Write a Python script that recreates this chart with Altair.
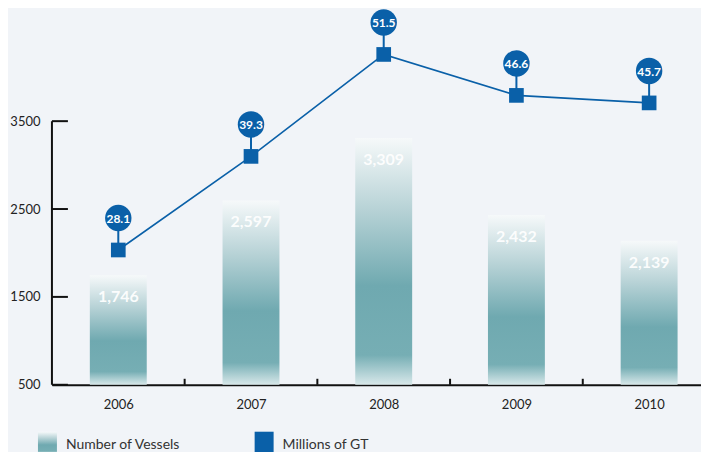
import altair as alt
import pandas as pd

years = [2006, 2007, 2008, 2009, 2010]
vessels = [1746, 2597, 3309, 2432, 2139]
gt = [28.1, 39.3, 51.5, 46.6, 45.7]
y_ticks = [500, 1500, 2500, 3500]
x_bounds = [2006.5, 2007.5, 2008.5, 2009.5]
legend_labels = ["Number of Vessels", "Millions of GT"]

df = pd.DataFrame({"year": years, "vessels": vessels, "gt": gt})

BLUE = "#0a60a8"
FONT = "Lato"
W, H = 650, 375
XDOM = [2005.5, 2005.5 + W / 132.9]
YDOM = [500, 500 + H / 0.088]
GDOM = [11.97, 56.78]


def xsc():
    return alt.Scale(domain=XDOM, nice=False, zero=False, padding=0)


bar_grad = alt.Gradient(
    gradient="linear", x1=0, y1=0, x2=0, y2=1,
    stops=[
        alt.GradientStop(offset=0, color="#f6f9fa"),
        alt.GradientStop(offset=0.3, color="#b5d1d5"),
        alt.GradientStop(offset=0.6, color="#6fa9b0"),
        alt.GradientStop(offset=0.88, color="#76aeb4"),
        alt.GradientStop(offset=1, color="#d8e8ea"),
    ],
)

ybar = alt.Scale(domain=YDOM, nice=False, zero=False, padding=0)
yline = alt.Scale(domain=GDOM, nice=False, zero=False, padding=0)

base = alt.Chart(df)

bars = base.mark_bar(width=57, fill=bar_grad).encode(
    x=alt.X("year:Q", scale=xsc(),
            axis=alt.Axis(values=years, format="d", title=None, grid=False,
                          ticks=False, domainColor="#111", domainWidth=2,
                          labelFont=FONT, labelFontSize=13, labelColor="#222",
                          labelPadding=14)),
    y=alt.Y("vessels:Q", scale=ybar,
            axis=alt.Axis(values=y_ticks, format="d", title=None, grid=False,
                          ticks=False, domain=False, labelFont=FONT,
                          labelFontSize=13, labelColor="#222", labelPadding=12)),
    y2=alt.datum(500),
)

bar_text = base.mark_text(font=FONT, fontSize=16, fontWeight="bold",
                          color="white", opacity=0.92, baseline="middle",
                          dy=22).encode(
    x=alt.X("year:Q", scale=xsc()),
    y=alt.Y("vessels:Q", scale=ybar, axis=None),
    text=alt.Text("vessels:Q", format=",d"),
)

xs = alt.X("year:Q", scale=xsc())

line = base.mark_line(color=BLUE, strokeWidth=1.6).encode(
    x=xs, y=alt.Y("gt:Q", scale=yline, axis=None))
stems = base.mark_rule(color=BLUE, strokeWidth=2, y2Offset=-30).encode(
    x=xs, y=alt.Y("gt:Q", scale=yline, axis=None), y2=alt.Y2("gt:Q"))
squares = base.mark_point(shape="square", filled=True, size=216, opacity=1,
                          color=BLUE).encode(
    x=xs, y=alt.Y("gt:Q", scale=yline, axis=None))
circles = base.mark_point(shape="circle", filled=True, size=700, opacity=1,
                          color=BLUE, yOffset=-32).encode(
    x=xs, y=alt.Y("gt:Q", scale=yline, axis=None))
circ_text = base.mark_text(font=FONT, fontSize=12, fontWeight="bold",
                           color="white", baseline="middle", yOffset=-31).encode(
    x=xs, y=alt.Y("gt:Q", scale=yline, axis=None),
    text=alt.Text("gt:Q", format=".1f"))

ytick_df = pd.DataFrame({"v": y_ticks})
ytick_rules = alt.Chart(ytick_df).mark_rule(color="#111", strokeWidth=2).encode(
    x=alt.value(0), x2=alt.value(16),
    y=alt.Y("v:Q", scale=ybar, axis=None))
yaxis_line = alt.Chart(pd.DataFrame({"a": [min(y_ticks)], "b": [max(y_ticks)]})).mark_rule(
    color="#111", strokeWidth=2).encode(
    x=alt.value(0), y=alt.Y("a:Q", scale=ybar, axis=None), y2="b:Q")

xb_df = pd.DataFrame({"b": x_bounds})
xtick_rules = alt.Chart(xb_df).mark_rule(color="#111", strokeWidth=2).encode(
    x=alt.X("b:Q", scale=xsc()),
    y=alt.value(H - 6), y2=alt.value(H))

one = alt.Data(values=[{"k": 1}])
leg_sw1 = alt.Chart(one).mark_rect(fill=bar_grad).encode(
    x=alt.value(-14), x2=alt.value(5), y=alt.value(422), y2=alt.value(444))
leg_tx1 = alt.Chart(one).mark_text(font=FONT, fontSize=14, color="#333",
                                   align="left", baseline="alphabetic",
                                   text=legend_labels[0]).encode(
    x=alt.value(14), y=alt.value(439))
leg_sw2 = alt.Chart(one).mark_rect(fill=BLUE).encode(
    x=alt.value(203), x2=alt.value(222), y=alt.value(422), y2=alt.value(444))
leg_tx2 = alt.Chart(one).mark_text(font=FONT, fontSize=14, color="#333",
                                   align="left", baseline="alphabetic",
                                   text=legend_labels[1]).encode(
    x=alt.value(231), y=alt.value(439))

chart = alt.layer(
    bars, bar_text, ytick_rules, yaxis_line, xtick_rules,
    line, stems, squares, circles, circ_text,
    leg_sw1, leg_tx1, leg_sw2, leg_tx2,
).resolve_scale(y="independent").properties(
    width=W, height=H,
    background="#f1f4f8",
    padding={"left": 44, "top": 2, "right": 0, "bottom": 67},
    autosize=alt.AutoSizeParams(type="none"),
).configure_view(stroke=None)

chart.save("out.html", embed_options={"renderer": "svg", "actions": False})
